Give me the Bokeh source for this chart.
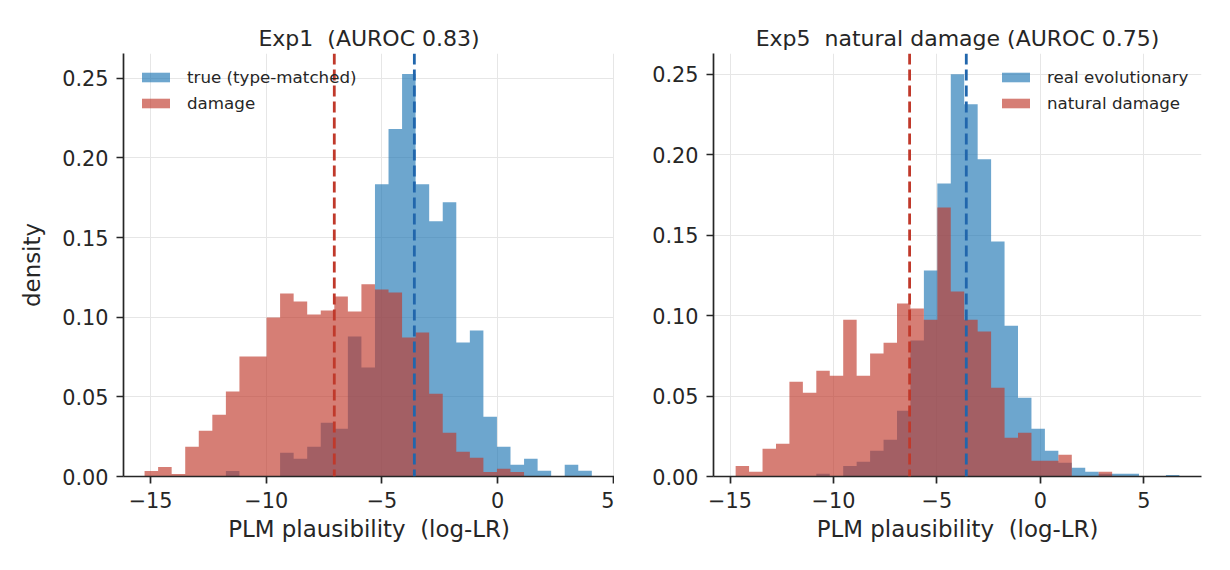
import numpy as np
from bokeh.plotting import figure
from bokeh.layouts import row
from bokeh.models import Span, Legend, LegendItem, FixedTicker, NumeralTickFormatter, Range1d
from bokeh.embed import file_html
from bokeh.resources import INLINE

# ---------------- data ----------------
n_bins = 33
left_edge_lo, left_edge_hi = -15.26, 4.07
right_edge_lo, right_edge_hi = -14.73, 6.72

left_true = [0, 0, 0, 0, 0, 0, 0.0034, 0, 0, 0, 0.0149, 0.0111, 0.0187, 0.0338, 0.0300,
             0.0879, 0.0684, 0.1835, 0.2181, 0.2527, 0.1835, 0.1602, 0.1722, 0.0841,
             0.0916, 0.0375, 0.0187, 0.0073, 0.0111, 0.0036, 0, 0.0073, 0.0036]
left_damage = [0.0034, 0.0059, 0.0015, 0.0187, 0.0287, 0.0388, 0.0533, 0.0753, 0.0753,
               0.0998, 0.1149, 0.1099, 0.1017, 0.1042, 0.1130, 0.1036, 0.1206, 0.1174,
               0.1155, 0.0872, 0.0904, 0.0520, 0.0275, 0.0155, 0.0117, 0.0029, 0.0048,
               0.0029, 0, 0, 0, 0, 0]
right_true = [0, 0, 0, 0, 0, 0, 0.0017, 0, 0.0066, 0.0091, 0.0160, 0.0228, 0.0409, 0.0845,
              0.1281, 0.1822, 0.2501, 0.2314, 0.1972, 0.1461, 0.0938, 0.0490, 0.0297,
              0.0160, 0.0085, 0.0054, 0.0029, 0.0017, 0.0017, 0.0017, 0, 0, 0.0010]
right_damage = [0.0066, 0.0029, 0.0172, 0.0203, 0.0589, 0.0521, 0.0658, 0.0627, 0.0975,
                0.0627, 0.0764, 0.0832, 0.1075, 0.1044, 0.0975, 0.1673, 0.1150, 0.0975,
                0.0901, 0.0552, 0.0241, 0.0272, 0.0098, 0.0098, 0.0135, 0, 0, 0.0029,
                0, 0, 0, 0, 0]

left_medians = {"true": -3.60, "damage": -7.06}
right_medians = {"true": -3.58, "damage": -6.32}

# double spaces kept visible with a no-break space (SVG collapses plain runs of spaces)
titles = ["Exp1 \u00a0(AUROC 0.83)", "Exp5 \u00a0natural damage (AUROC 0.75)"]
left_labels = ["true (type-matched)", "damage"]
right_labels = ["real evolutionary", "natural damage"]
x_ticks = [-15, -10, -5, 0, 5]
y_ticks = [0, 0.05, 0.10, 0.15, 0.20, 0.25]
x_label = "PLM plausibility \u00a0(log-LR)"
y_label = "density"

# ---------------- style ----------------
BLUE_FILL = "#1f77b4"
BLUE_LINE = "#2166ac"
RED = "#c0392b"
ALPHA = 0.65
FONT = "DejaVu Sans"
INK = "#262626"


def make_panel(title, edges_lo, edges_hi, true_vals, dmg_vals, medians, labels,
               xr, yr, border_left, frame_w, border_right, legend_loc, show_ylabel):
    edges = np.linspace(edges_lo, edges_hi, n_bins + 1)
    p = figure(output_backend="svg", toolbar_location=None,
               frame_width=frame_w, frame_height=423,
               min_border_left=border_left, min_border_right=border_right,
               min_border_top=53, min_border_bottom=94,
               x_range=Range1d(*xr), y_range=Range1d(*yr))
    p.title.text = title
    p.title.align = "center"
    p.title.text_font = FONT
    p.title.text_font_size = "22px"
    p.title.text_font_style = "normal"
    p.title.text_color = INK
    p.title.standoff = 6

    t_step = list(true_vals) + [true_vals[-1]]
    d_step = list(dmg_vals) + [dmg_vals[-1]]
    r_true = p.varea_step(x=edges, y1=0, y2=t_step, step_mode="after",
                          fill_color=BLUE_FILL, fill_alpha=ALPHA)
    r_dmg = p.varea_step(x=edges, y1=0, y2=d_step, step_mode="after",
                         fill_color=RED, fill_alpha=ALPHA)

    p.add_layout(Span(location=medians["damage"], dimension="height", line_color=RED,
                      line_width=2.8, line_dash="11 5"))
    p.add_layout(Span(location=medians["true"], dimension="height", line_color=BLUE_LINE,
                      line_width=2.8, line_dash="11 5"))

    legend = Legend(items=[LegendItem(label=labels[0], renderers=[r_true]),
                           LegendItem(label=labels[1], renderers=[r_dmg])],
                    location=legend_loc, padding=0, margin=0,
                    glyph_width=35, glyph_height=12, label_height=20, spacing=6,
                    label_standoff=14, label_text_font=FONT,
                    label_text_font_size="16.7px", label_text_color=INK,
                    border_line_alpha=0, background_fill_alpha=0)
    p.add_layout(legend)

    p.outline_line_color = None
    for g in (p.xgrid, p.ygrid):
        g.grid_line_color = "#e6e6e6"
        g.grid_line_width = 1

    p.xaxis.ticker = FixedTicker(ticks=x_ticks)
    p.xaxis.major_label_overrides = {t: str(t).replace("-", "\u2212") for t in x_ticks}
    p.yaxis.ticker = FixedTicker(ticks=y_ticks)
    p.yaxis.formatter = NumeralTickFormatter(format="0.00")
    for ax in (p.xaxis[0], p.yaxis[0]):
        ax.axis_line_color = INK
        ax.axis_line_width = 1.7
        ax.major_tick_line_color = INK
        ax.major_tick_line_width = 1.7
        ax.major_tick_out = 7
        ax.major_tick_in = 0
        ax.minor_tick_line_color = None
        ax.major_label_text_font = FONT
        ax.major_label_text_font_size = "20.8px"
        ax.major_label_text_color = INK
        ax.axis_label_text_font = FONT
        ax.axis_label_text_font_size = "22.9px"
        ax.axis_label_text_font_style = "normal"
        ax.axis_label_text_color = INK
    p.xaxis.axis_label = x_label
    p.xaxis.major_label_standoff = 8
    p.xaxis.axis_label_standoff = 5
    p.yaxis.major_label_standoff = 8
    if show_ylabel:
        p.yaxis.axis_label = y_label
        p.yaxis.axis_label_standoff = 14
    return p


p1 = make_panel(titles[0], left_edge_lo, left_edge_hi, left_true, left_damage,
                left_medians, left_labels, (-16.17, 5.05), (0, 0.2655),
                123, 491, 0, (15, 363), True)
p2 = make_panel(titles[1], right_edge_lo, right_edge_hi, right_true, right_damage,
                right_medians, right_labels, (-15.80, 7.79), (0, 0.2630),
                99, 488, 29, (285, 363), False)

layout = row(p1, p2)
open("out.html", "w").write(file_html(layout, INLINE))
